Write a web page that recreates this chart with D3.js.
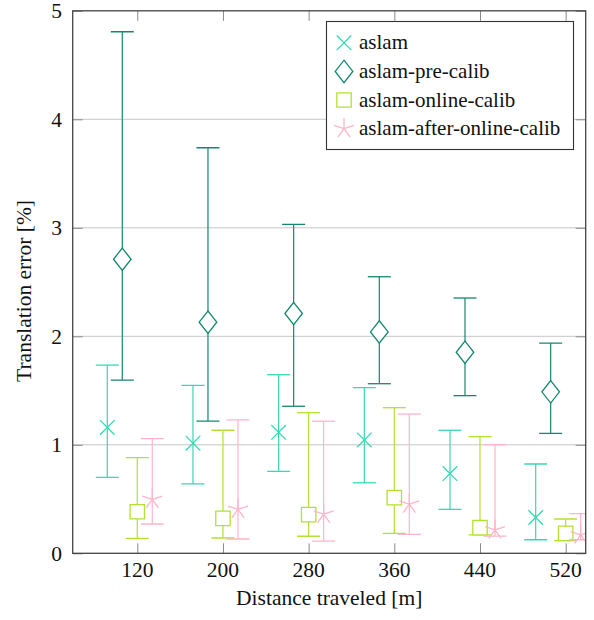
<!DOCTYPE html>
<html>
<head>
<meta charset="utf-8">
<script src="https://cdn.jsdelivr.net/npm/d3@7"></script>
<style>
  html, body { margin: 0; padding: 0; background: #fff; }
  svg { display: block; }
</style>
</head>
<body>
<svg id="chart" width="594" height="620"></svg>
<script>
// Distance travelled (m) and translation error statistics (%) per method
const distances = [120, 200, 280, 360, 440, 520];
const seriesNames = ["aslam", "aslam-pre-calib", "aslam-online-calib", "aslam-after-online-calib"];

const aslamMean = [1.16, 1.015, 1.115, 1.045, 0.735, 0.33];
const aslamLow  = [0.70, 0.64, 0.755, 0.65, 0.405, 0.125];
const aslamHigh = [1.735, 1.548, 1.646, 1.527, 1.134, 0.823];

const preMean = [2.71, 2.13, 2.21, 2.04, 1.853, 1.488];
const preLow  = [1.597, 1.219, 1.355, 1.563, 1.453, 1.106];
const preHigh = [4.807, 3.738, 3.032, 2.549, 2.353, 1.938];

const onlineMean = [0.383, 0.322, 0.356, 0.513, 0.236, 0.184];
const onlineLow  = [0.138, 0.141, 0.157, 0.184, 0.169, 0.116];
const onlineHigh = [0.881, 1.134, 1.296, 1.342, 1.075, 0.316];

const afterMean = [0.498, 0.405, 0.362, 0.454, 0.215, 0.17];
const afterLow  = [0.27, 0.132, 0.113, 0.175, 0.159, 0.125];
const afterHigh = [1.056, 1.229, 1.217, 1.284, 1.001, 0.365];

const yTicks = [0, 1, 2, 3, 4, 5];
const xLabel = "Distance traveled [m]";
const yLabel = "Translation error [%]";

// Per-series styling: colour, marker shape, horizontal shift in metres
const styles = [
  { color: "#36d9b2", mark: "cross",   shift: -28 },
  { color: "#15876f", mark: "diamond", shift: -14 },
  { color: "#b3e034", mark: "square",  shift: 0 },
  { color: "#ffb5c9", mark: "star",    shift: 14 }
];

const series = [
  { mean: aslamMean, low: aslamLow, high: aslamHigh },
  { mean: preMean, low: preLow, high: preHigh },
  { mean: onlineMean, low: onlineLow, high: onlineHigh },
  { mean: afterMean, low: afterLow, high: afterHigh }
].map((s, i) => ({ name: seriesNames[i], ...styles[i],
  points: distances.map((d, j) => ({ x: d, mean: s.mean[j], low: s.low[j], high: s.high[j] })) }));

const svg = d3.select("#chart");
const plotLeft = 72.7, plotRight = 585.7, plotTop = 10.8, plotBottom = 553.3;
const textColor = "#111";
const serif = "Liberation Serif";

const x = d3.scaleLinear().domain([59.7, 538.7]).range([plotLeft, plotRight]);
const y = d3.scaleLinear().domain([0, 5]).range([plotBottom, plotTop]);

// Horizontal grid lines
svg.append("g")
  .selectAll("line")
  .data(yTicks.filter(t => t > 0 && t < 5))
  .join("line")
  .attr("x1", plotLeft).attr("x2", plotRight)
  .attr("y1", d => y(d)).attr("y2", d => y(d))
  .attr("stroke", "#c6c6c6").attr("stroke-width", 1);

// Inward ticks on all four sides
const tickLen = 10;
const tickColor = "#8a8a8a";
const axB = d3.axisBottom(x).tickValues(distances).tickSizeInner(-tickLen).tickSizeOuter(0).tickFormat("");
const axT = d3.axisTop(x).tickValues(distances).tickSizeInner(-tickLen).tickSizeOuter(0).tickFormat("");
const axL = d3.axisLeft(y).tickValues(yTicks).tickSizeInner(-tickLen).tickSizeOuter(0).tickFormat("");
const axR = d3.axisRight(y).tickValues(yTicks).tickSizeInner(-tickLen).tickSizeOuter(0).tickFormat("");
[[axB, `translate(0,${plotBottom})`], [axT, `translate(0,${plotTop})`],
 [axL, `translate(${plotLeft},0)`], [axR, `translate(${plotRight},0)`]].forEach(([ax, tr]) => {
  const g = svg.append("g").attr("transform", tr).call(ax);
  g.select(".domain").remove();
  g.selectAll(".tick text").remove();
  g.selectAll(".tick line").attr("stroke", tickColor).attr("stroke-width", 1);
});

function addText(sel) {
  return sel.style("font-family", serif).attr("fill", textColor);
}

// Tick labels
addText(svg.append("g").selectAll("text").data(distances).join("text"))
  .attr("x", d => x(d)).attr("y", 577)
  .attr("text-anchor", "middle").attr("font-size", 21.5)
  .text(d => d);
addText(svg.append("g").selectAll("text").data(yTicks).join("text"))
  .attr("x", 62).attr("y", d => y(d) + 7.2)
  .attr("text-anchor", "end").attr("font-size", 21.5)
  .text(d => d);

// Axis titles
addText(svg.append("text"))
  .attr("x", (plotLeft + plotRight) / 2).attr("y", 605)
  .attr("text-anchor", "middle").attr("font-size", 21.5)
  .text(xLabel);
addText(svg.append("text"))
  .attr("transform", `translate(31,291) rotate(-90)`)
  .attr("text-anchor", "middle").attr("font-size", 21.5)
  .text(yLabel);

// Marker path generators
function markPath(type) {
  switch (type) {
    case "cross": { const s = 7.3; return `M${-s},${-s}L${s},${s}M${-s},${s}L${s},${-s}`; }
    case "diamond": { const h = 11.2, w = 8.8; return `M0,${-h}L${w},0L0,${h}L${-w},0Z`; }
    case "square": { const s = 7.2; return `M${-s},${-s}H${s}V${s}H${-s}Z`; }
    case "star": {
      const r = 10.5; let p = "";
      for (let k = 0; k < 5; k++) {
        const a = -Math.PI / 2 + k * 2 * Math.PI / 5;
        p += `M0,0L${(r * Math.cos(a)).toFixed(2)},${(r * Math.sin(a)).toFixed(2)}`;
      }
      return p;
    }
  }
}

// Plot-area clip
svg.append("clipPath").attr("id", "plot-clip")
  .append("rect").attr("x", plotLeft).attr("y", plotTop)
  .attr("width", plotRight - plotLeft).attr("height", plotBottom - plotTop);

const plot = svg.append("g").attr("clip-path", "url(#plot-clip)");
const capHalf = 11.5;

series.forEach(s => {
  const g = plot.append("g");
  const px = d => x(d.x + s.shift);
  g.selectAll("line.bar").data(s.points).join("line").attr("class", "bar")
    .attr("x1", px).attr("x2", px)
    .attr("y1", d => y(d.low)).attr("y2", d => y(d.high))
    .attr("stroke", s.color).attr("stroke-width", 1.2);
  ["low", "high"].forEach(k => {
    g.selectAll(`line.cap-${k}`).data(s.points).join("line").attr("class", `cap-${k}`)
      .attr("x1", d => px(d) - capHalf).attr("x2", d => px(d) + capHalf)
      .attr("y1", d => y(d[k])).attr("y2", d => y(d[k]))
      .attr("stroke", s.color).attr("stroke-width", 1.3);
  });
  g.selectAll("path.mark").data(s.points).join("path").attr("class", "mark")
    .attr("transform", d => `translate(${px(d)},${y(d.mean)})`)
    .attr("d", markPath(s.mark))
    .attr("fill", s.mark === "diamond" || s.mark === "square" ? "#fff" : "none")
    .attr("stroke", s.color).attr("stroke-width", 1.3);
});

// Axis frame
svg.append("rect")
  .attr("x", plotLeft).attr("y", plotTop)
  .attr("width", plotRight - plotLeft).attr("height", plotBottom - plotTop)
  .attr("fill", "none").attr("stroke", "#444").attr("stroke-width", 1.3);

// Legend
const lg = svg.append("g");
lg.append("rect").attr("x", 326.5).attr("y", 21.5).attr("width", 247).attr("height", 128)
  .attr("fill", "#fff").attr("stroke", "#333").attr("stroke-width", 1.1);
series.forEach((s, i) => {
  const cy = 42.8 + i * 28.6;
  lg.append("path").attr("transform", `translate(344,${cy})`)
    .attr("d", markPath(s.mark))
    .attr("fill", s.mark === "diamond" || s.mark === "square" ? "#fff" : "none")
    .attr("stroke", s.color).attr("stroke-width", 1.3);
  addText(lg.append("text")).attr("x", 359).attr("y", cy + 6.5)
    .attr("font-size", 21).text(s.name);
});
</script>
</body>
</html>
